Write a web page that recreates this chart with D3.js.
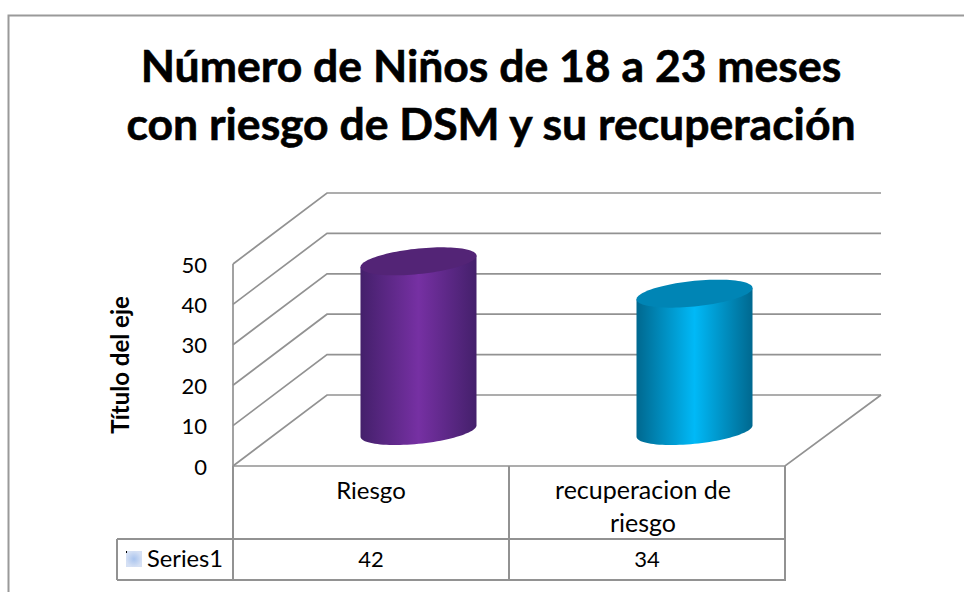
<!DOCTYPE html>
<html>
<head>
<meta charset="utf-8">
<script src="https://cdn.jsdelivr.net/npm/d3@7"></script>
<style>
body { margin: 0; background: #fff; }
text { font-family: Lato, "Open Sans", sans-serif; fill: #000; }
</style>
</head>
<body>
<script>
const categories = ["Riesgo", "recuperacion de riesgo"]
const values = [42, 34]
const ticks = [0, 10, 20, 30, 40, 50]
const seriesName = "Series1"
const titleLines = ["Número de Niños de 18 a 23 meses", "con riesgo de DSM y su recuperación"]
const yTitle = "Título del eje"
const barColors = [
  { edge: "#44206b", mid: "#7630a3", top: "#532476" },
  { edge: "#00688f", mid: "#00b9f7", top: "#0085b5" }
]

const WIDTH = 964
const HEIGHT = 592
const GRID = "#929292"

const svg = d3.select("body").append("svg").attr("width", WIDTH).attr("height", HEIGHT)
  .style("display", "block")

// chart frame, only the left and top edges are in the picture
svg.append("path").attr("d", "M8.5,592V15.5H964").attr("fill", "none")
  .attr("stroke", "#9a9a9a").attr("stroke-width", 2)

// title
svg.selectAll(".title").data(titleLines).enter().append("text")
  .attr("class", "title")
  .attr("x", 491)
  .attr("y", (d, i) => 82 + i * 57.5)
  .attr("text-anchor", "middle")
  .attr("font-size", 44.5)
  .attr("font-weight", 700)
  .style("stroke", "#000").style("stroke-width", 0.6)
  .text(d => d)

// scales
const y = d3.scaleLinear().domain([0, 50]).range([466, 264])
const x = d3.scaleBand().domain(categories).range([233, 785])
const depthX = 94
const depthY = 71
const backRight = 881

const grid = svg.append("g").attr("fill", "none").attr("stroke", GRID).attr("stroke-width", 1.7)

// walls: one line for each tick, front then back
ticks.forEach(t => {
  grid.append("path").attr("d", `M${x.range()[0]},${y(t)}L${x.range()[0] + depthX},${y(t) - depthY}L${backRight},${y(t) - depthY}`)
})
grid.append("path").attr("d", `M${x.range()[0]},${y(50)}V${y(0)}`)
// floor
grid.append("path").attr("d", `M${x.range()[0]},${y(0)}H${x.range()[1]}L${backRight},${y(0) - depthY}`)

// y ticks
svg.selectAll(".tick-label").data(ticks).enter().append("text")
  .attr("class", "tick-label")
  .attr("x", 207)
  .attr("y", d => y(d) + 8.5)
  .attr("text-anchor", "end")
  .attr("font-size", 22)
  .text(d => d)

svg.append("text")
  .attr("transform", "translate(129,365) rotate(-90)")
  .attr("text-anchor", "middle")
  .attr("font-size", 24)
  .attr("font-weight", 700)
  .text(yTitle)

// cylinders
const defs = svg.append("defs")
barColors.forEach((c, i) => {
  const g = defs.append("linearGradient").attr("id", "bar" + i)
  g.append("stop").attr("offset", "0%").attr("stop-color", c.edge)
  g.append("stop").attr("offset", "50%").attr("stop-color", c.mid)
  g.append("stop").attr("offset", "100%").attr("stop-color", c.edge)
})

const rx = 58
const tilt = 5.7
const ry = 12.8
const ringPoint = (cx, cy, a) => [cx + rx * Math.cos(a), cy - tilt * Math.cos(a) + ry * Math.sin(a)]
const line = d3.line()
const steps = d3.range(0, 49).map(k => k / 48 * Math.PI)
const baseShift = 35

categories.forEach((c, i) => {
  const cx = x(c) + x.bandwidth() / 2 + 47.5
  const cy0 = y(0) - baseShift
  const cy1 = y(values[i]) - baseShift
  const front = steps.map(a => ringPoint(cx, cy0, a))
  const body = [ringPoint(cx, cy1, 0)].concat(front).concat([ringPoint(cx, cy1, Math.PI)])
  svg.append("path").attr("d", line(body) + "Z").attr("fill", `url(#bar${i})`)
  const ring = d3.range(0, 97).map(k => ringPoint(cx, cy1, k / 48 * Math.PI))
  svg.append("path").attr("d", line(ring) + "Z").attr("fill", barColors[i].top)
})

// data table
const table = svg.append("g").attr("fill", "none").attr("stroke", GRID).attr("stroke-width", 2)
const rowTop = 539
const rowBottom = 580
const legendLeft = 117
const xLeft = x.range()[0]
const xRight = x.range()[1]
table.append("path").attr("d", `M${legendLeft},${rowTop}H${xRight}V${y(0)}M${legendLeft},${rowBottom}H${xRight}V${rowTop}M${legendLeft},${rowTop}V${rowBottom}M${xLeft},${y(0)}V${rowBottom}`)
table.append("path").attr("d", `M${x(categories[1])},${y(0)}V${rowBottom}`)

svg.append("text").attr("x", x(categories[0]) + x.bandwidth() / 2).attr("y", 499)
  .attr("text-anchor", "middle").attr("font-size", 24).text(categories[0])
const wrapped = ["recuperacion de", "riesgo"]
svg.selectAll(".cat2").data(wrapped).enter().append("text").attr("class", "cat2")
  .attr("x", x(categories[1]) + x.bandwidth() / 2 - 4)
  .attr("y", (d, i) => 499 + i * 33)
  .attr("text-anchor", "middle").attr("font-size", 25).text(d => d)

svg.selectAll(".val").data(values).enter().append("text").attr("class", "val")
  .attr("x", (d, i) => x(categories[i]) + x.bandwidth() / 2)
  .attr("y", 567)
  .attr("text-anchor", "middle").attr("font-size", 22).text(d => d)

// legend key with its soft square
const keyGrad = defs.append("radialGradient").attr("id", "key")
keyGrad.append("stop").attr("offset", "0%").attr("stop-color", "#a9c4ee")
keyGrad.append("stop").attr("offset", "100%").attr("stop-color", "#d5e0f4")
svg.append("rect").attr("x", 126).attr("y", 551).attr("width", 16).attr("height", 16).attr("fill", "url(#key)")
svg.append("rect").attr("x", 126).attr("y", 551).attr("width", 1).attr("height", 2).attr("fill", "#000")
svg.append("text").attr("x", 147).attr("y", 567).attr("font-size", 23.7).text(seriesName)
</script>
</body>
</html>
